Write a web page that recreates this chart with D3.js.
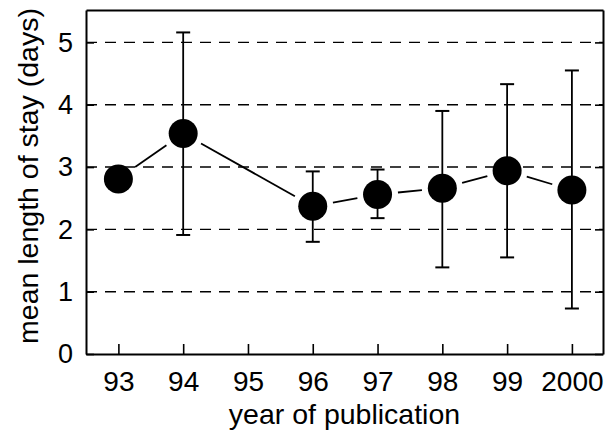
<!DOCTYPE html>
<html>
<head>
<meta charset="utf-8">
<script src="https://cdn.jsdelivr.net/npm/d3@7"></script>
<style>
  body { margin: 0; background: #fff; }
  text { font-family: "Liberation Sans", Arial, sans-serif; fill: #000; }
</style>
</head>
<body>
<div id="chart"></div>
<script>
const width = 605, height = 433;
const margin = {top: 10, right: 2, bottom: 79, left: 86};
const innerWidth = width - margin.left - margin.right,
      innerHeight = height - margin.top - margin.bottom;

// data
const years = [93, 94, 96, 97, 98, 99, 100];
const means = [2.81, 3.54, 2.37, 2.56, 2.66, 2.94, 2.63];
const upper = [null, 5.16, 2.93, 2.96, 3.9, 4.33, 4.55];
const lower = [null, 1.91, 1.8, 2.18, 1.39, 1.55, 0.73];
const xTicks = [93, 94, 95, 96, 97, 98, 99, 100];
const xTickLabels = ["93", "94", "95", "96", "97", "98", "99", "2000"];
const yTicks = [0, 1, 2, 3, 4, 5];

const svg = d3.select("#chart").append("svg")
  .attr("width", width)
  .attr("height", height)
  .append("g")
  .attr("transform", `translate(${margin.left}, ${margin.top})`);

const x = d3.scaleLinear().domain([92.5, 100.48]).range([0, innerWidth]);
const y = d3.scaleLinear().domain([0, 5.52]).range([innerHeight, 0]);

// dashed grid
svg.append("g")
  .selectAll("line")
  .data(yTicks.filter(d => d > 0))
  .enter().append("line")
  .attr("x1", 0).attr("x2", innerWidth)
  .attr("y1", d => y(d)).attr("y2", d => y(d))
  .attr("stroke", "#000")
  .attr("stroke-width", 1.4)
  .attr("stroke-dasharray", "11,8");

// axes (ticks inside)
svg.append("g")
  .call(d3.axisLeft(y).tickValues(yTicks).tickSizeInner(-8).tickSizeOuter(0).tickPadding(13).tickFormat(d3.format("d")))
  .call(g => g.selectAll("text").style("font-size", "27px"));

svg.append("g")
  .attr("transform", `translate(${innerWidth}, 0)`)
  .call(d3.axisRight(y).tickValues(yTicks).tickSizeInner(-8).tickSizeOuter(0).tickFormat(""));

svg.append("g")
  .attr("transform", `translate(0, ${innerHeight})`)
  .call(d3.axisBottom(x).tickValues(xTicks).tickSizeInner(-10).tickSizeOuter(0).tickPadding(17)
    .tickFormat((d, i) => xTickLabels[i]))
  .call(g => g.selectAll("text").style("font-size", "28px"));

svg.append("g")
  .call(d3.axisTop(x).tickValues([]).tickSizeOuter(0));

svg.selectAll(".domain").attr("stroke-width", 2);
svg.selectAll(".tick line").attr("stroke-width", 1.6);

// connecting segments with gaps around markers
const r = 14.5, gap = 6;
const pts = years.map((d, i) => ({px: x(d), py: y(means[i])}));
const segs = d3.pairs(pts).map(([a, b]) => {
  const dx = b.px - a.px, dy = b.py - a.py, L = Math.hypot(dx, dy);
  const k = (r + gap) / L;
  return {x1: a.px + dx * k, y1: a.py + dy * k, x2: b.px - dx * k, y2: b.py - dy * k};
});
svg.append("g")
  .selectAll("line")
  .data(segs)
  .enter().append("line")
  .attr("x1", d => d.x1).attr("y1", d => d.y1)
  .attr("x2", d => d.x2).attr("y2", d => d.y2)
  .attr("stroke", "#000")
  .attr("stroke-width", 1.8);

// error bars
const bars = years.map((d, i) => ({year: d, hi: upper[i], lo: lower[i]})).filter(d => d.hi !== null);
const eb = svg.append("g").selectAll("g").data(bars).enter().append("g");
eb.append("line")
  .attr("x1", d => x(d.year)).attr("x2", d => x(d.year))
  .attr("y1", d => y(d.hi)).attr("y2", d => y(d.lo))
  .attr("stroke", "#000").attr("stroke-width", 1.8);
eb.append("line")
  .attr("x1", d => x(d.year) - 7).attr("x2", d => x(d.year) + 7)
  .attr("y1", d => y(d.hi)).attr("y2", d => y(d.hi))
  .attr("stroke", "#000").attr("stroke-width", 2);
eb.append("line")
  .attr("x1", d => x(d.year) - 7).attr("x2", d => x(d.year) + 7)
  .attr("y1", d => y(d.lo)).attr("y2", d => y(d.lo))
  .attr("stroke", "#000").attr("stroke-width", 2);

// markers
svg.append("g")
  .selectAll("circle")
  .data(years)
  .enter().append("circle")
  .attr("cx", d => x(d))
  .attr("cy", (d, i) => y(means[i]))
  .attr("r", r)
  .attr("fill", "#000");

// axis titles
svg.append("text")
  .attr("transform", "rotate(-90)")
  .attr("x", -(innerHeight / 2) + 6)
  .attr("y", -48)
  .style("text-anchor", "middle")
  .style("font-size", "28.5px")
  .text("mean length of stay (days)");

svg.append("text")
  .attr("x", innerWidth / 2)
  .attr("y", innerHeight + 70)
  .style("text-anchor", "middle")
  .style("font-size", "28.5px")
  .text("year of publication");
</script>
</body>
</html>
